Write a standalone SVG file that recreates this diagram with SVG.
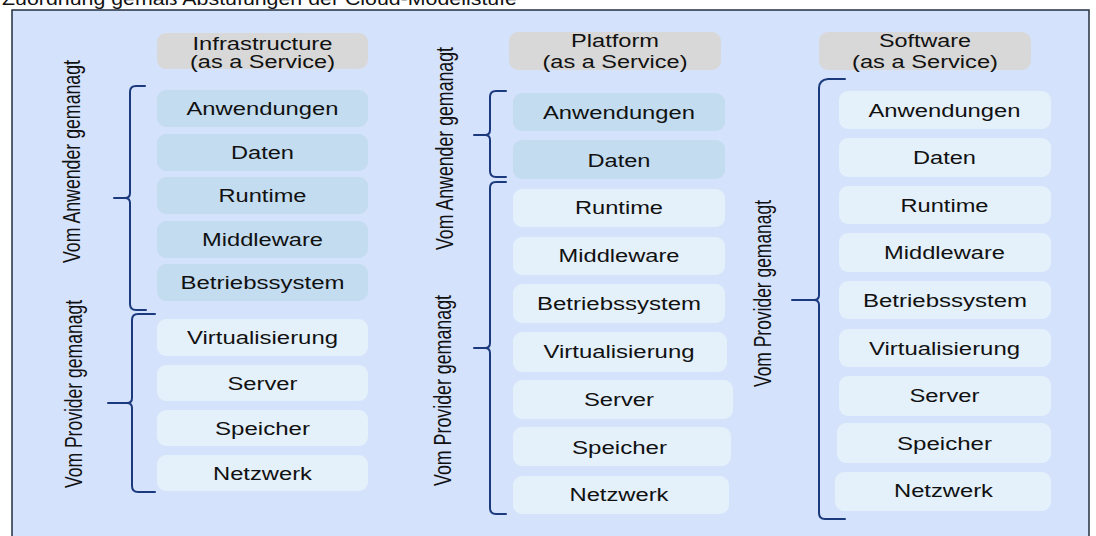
<svg xmlns="http://www.w3.org/2000/svg" width="1096" height="536" viewBox="0 0 1096 536">
<style>
text{font-family:"Liberation Sans",Arial,sans-serif;fill:#111;}
.t{font-size:17.5px;text-anchor:middle;}
.v{font-size:23.5px;text-anchor:middle;}
.hd{fill:#d8d8d8;}
.dk{fill:#c3dcef;}
.lt{fill:#e4f0fa;}
.br{fill:none;stroke:#1b3a7e;stroke-width:2;stroke-linejoin:round;stroke-linecap:round;}
</style>
<rect width="1096" height="536" fill="#ffffff"/>
<text x="2" y="5" font-size="17.5" textLength="515" lengthAdjust="spacingAndGlyphs">Zuordnung gemäß Abstufungen der Cloud-Modellstufe</text>
<rect x="12" y="10" width="1077" height="545" fill="#d5e2fc" stroke="#233040" stroke-width="1.5"/>

<g id="col-iaas">
<g id="iaas-header"><rect class="hd" x="157" y="33" width="211" height="36" rx="9"/><text class="t" x="262.5" y="50" textLength="140" lengthAdjust="spacingAndGlyphs">Infrastructure</text><text class="t" x="262.5" y="68" textLength="145" lengthAdjust="spacingAndGlyphs">(as a Service)</text></g>
<g id="iaas-anwendungen"><rect class="dk" x="157" y="90" width="211" height="37" rx="9"/><text class="t" x="262.5" y="115" textLength="152" lengthAdjust="spacingAndGlyphs">Anwendungen</text></g>
<g id="iaas-daten"><rect class="dk" x="157" y="134" width="211" height="37" rx="9"/><text class="t" x="262.5" y="159" textLength="63" lengthAdjust="spacingAndGlyphs">Daten</text></g>
<g id="iaas-runtime"><rect class="dk" x="157" y="177" width="211" height="37" rx="9"/><text class="t" x="262.5" y="202" textLength="88" lengthAdjust="spacingAndGlyphs">Runtime</text></g>
<g id="iaas-middleware"><rect class="dk" x="157" y="221" width="211" height="37" rx="9"/><text class="t" x="262.5" y="246" textLength="121" lengthAdjust="spacingAndGlyphs">Middleware</text></g>
<g id="iaas-betriebssystem"><rect class="dk" x="157" y="264" width="211" height="37" rx="9"/><text class="t" x="262.5" y="289" textLength="164" lengthAdjust="spacingAndGlyphs">Betriebssystem</text></g>
<g id="iaas-virtualisierung"><rect class="lt" x="157" y="319" width="211" height="37" rx="9"/><text class="t" x="262.5" y="344" textLength="151" lengthAdjust="spacingAndGlyphs">Virtualisierung</text></g>
<g id="iaas-server"><rect class="lt" x="157" y="365" width="211" height="36" rx="9"/><text class="t" x="262.5" y="390" textLength="70" lengthAdjust="spacingAndGlyphs">Server</text></g>
<g id="iaas-speicher"><rect class="lt" x="157" y="410" width="211" height="36" rx="9"/><text class="t" x="262.5" y="435" textLength="95" lengthAdjust="spacingAndGlyphs">Speicher</text></g>
<g id="iaas-netzwerk"><rect class="lt" x="157" y="455" width="211" height="36" rx="9"/><text class="t" x="262.5" y="480" textLength="99" lengthAdjust="spacingAndGlyphs">Netzwerk</text></g>
<g id="iaas-label-anwender"><text class="v" transform="translate(80,161.5) rotate(-90)" textLength="203" lengthAdjust="spacingAndGlyphs">Vom Anwender  gemanagt</text></g>
<g id="iaas-label-provider"><text class="v" transform="translate(82,394) rotate(-90)" textLength="188" lengthAdjust="spacingAndGlyphs">Vom Provider gemanagt</text></g>
</g>

<g id="col-paas">
<g id="paas-header"><rect class="hd" x="509" y="32" width="212" height="38" rx="9"/><text class="t" x="615" y="47" textLength="88" lengthAdjust="spacingAndGlyphs">Platform</text><text class="t" x="615" y="68" textLength="145" lengthAdjust="spacingAndGlyphs">(as a Service)</text></g>
<g id="paas-anwendungen"><rect class="dk" x="513" y="93" width="212" height="38" rx="9"/><text class="t" x="619" y="119" textLength="152" lengthAdjust="spacingAndGlyphs">Anwendungen</text></g>
<g id="paas-daten"><rect class="dk" x="513" y="140" width="212" height="39" rx="9"/><text class="t" x="619" y="167" textLength="63" lengthAdjust="spacingAndGlyphs">Daten</text></g>
<g id="paas-runtime"><rect class="lt" x="513" y="189" width="212" height="38" rx="9"/><text class="t" x="619" y="214" textLength="88" lengthAdjust="spacingAndGlyphs">Runtime</text></g>
<g id="paas-middleware"><rect class="lt" x="513" y="237" width="212" height="38" rx="9"/><text class="t" x="619" y="262" textLength="121" lengthAdjust="spacingAndGlyphs">Middleware</text></g>
<g id="paas-betriebssystem"><rect class="lt" x="513" y="284" width="212" height="39" rx="9"/><text class="t" x="619" y="310" textLength="164" lengthAdjust="spacingAndGlyphs">Betriebssystem</text></g>
<g id="paas-virtualisierung"><rect class="lt" x="513" y="332" width="214" height="40" rx="9"/><text class="t" x="619" y="358" textLength="151" lengthAdjust="spacingAndGlyphs">Virtualisierung</text></g>
<g id="paas-server"><rect class="lt" x="513" y="380" width="220" height="39" rx="9"/><text class="t" x="619" y="406" textLength="70" lengthAdjust="spacingAndGlyphs">Server</text></g>
<g id="paas-speicher"><rect class="lt" x="513" y="427" width="218" height="39" rx="9"/><text class="t" x="619.5" y="454" textLength="95" lengthAdjust="spacingAndGlyphs">Speicher</text></g>
<g id="paas-netzwerk"><rect class="lt" x="513" y="476" width="216" height="38" rx="9"/><text class="t" x="619" y="501" textLength="99" lengthAdjust="spacingAndGlyphs">Netzwerk</text></g>
<g id="paas-label-anwender"><text class="v" transform="translate(453,148.5) rotate(-90)" textLength="203" lengthAdjust="spacingAndGlyphs">Vom Anwender  gemanagt</text></g>
<g id="paas-label-provider"><text class="v" transform="translate(451,390.5) rotate(-90)" textLength="191" lengthAdjust="spacingAndGlyphs">Vom Provider  gemanagt</text></g>
</g>

<g id="col-saas">
<g id="saas-header"><rect class="hd" x="819" y="32" width="212" height="38" rx="9"/><text class="t" x="925" y="47" textLength="92" lengthAdjust="spacingAndGlyphs">Software</text><text class="t" x="925" y="68" textLength="146" lengthAdjust="spacingAndGlyphs">(as a Service)</text></g>
<g id="saas-anwendungen"><rect class="lt" x="839" y="91" width="212" height="38" rx="9"/><text class="t" x="944.5" y="117" textLength="152" lengthAdjust="spacingAndGlyphs">Anwendungen</text></g>
<g id="saas-daten"><rect class="lt" x="839" y="138" width="212" height="39" rx="9"/><text class="t" x="944.5" y="164" textLength="63" lengthAdjust="spacingAndGlyphs">Daten</text></g>
<g id="saas-runtime"><rect class="lt" x="839" y="186" width="212" height="38" rx="9"/><text class="t" x="944.5" y="212" textLength="88" lengthAdjust="spacingAndGlyphs">Runtime</text></g>
<g id="saas-middleware"><rect class="lt" x="839" y="233" width="212" height="39" rx="9"/><text class="t" x="944.5" y="259" textLength="121" lengthAdjust="spacingAndGlyphs">Middleware</text></g>
<g id="saas-betriebssystem"><rect class="lt" x="839" y="281" width="212" height="38" rx="9"/><text class="t" x="945" y="307" textLength="164" lengthAdjust="spacingAndGlyphs">Betriebssystem</text></g>
<g id="saas-virtualisierung"><rect class="lt" x="839" y="329" width="212" height="38" rx="9"/><text class="t" x="944.5" y="355" textLength="151" lengthAdjust="spacingAndGlyphs">Virtualisierung</text></g>
<g id="saas-server"><rect class="lt" x="839" y="376" width="212" height="40" rx="9"/><text class="t" x="944.5" y="402" textLength="70" lengthAdjust="spacingAndGlyphs">Server</text></g>
<g id="saas-speicher"><rect class="lt" x="837" y="423" width="214" height="40" rx="9"/><text class="t" x="944.5" y="450" textLength="95" lengthAdjust="spacingAndGlyphs">Speicher</text></g>
<g id="saas-netzwerk"><rect class="lt" x="835" y="472" width="216" height="39" rx="9"/><text class="t" x="943.5" y="497" textLength="99" lengthAdjust="spacingAndGlyphs">Netzwerk</text></g>
<g id="saas-label-provider"><text class="v" transform="translate(771,293.5) rotate(-90)" textLength="187" lengthAdjust="spacingAndGlyphs">Vom Provider gemanagt</text></g>
</g>

<g id="connectors">
<path class="br" d="M145,86 L136,86 Q130,86 130,92 L130,193 Q130,198 125,198 L114,198 L125,198 Q130,198 130,203 L130,304 Q130,310 136,310 L146,310"/>
<path class="br" d="M155,314 L138,314 Q132,314 132,320 L132,398 Q132,403 127,403 L108,403 L127,403 Q132,403 132,408 L132,486 Q132,492 138,492 L155,492"/>
<path class="br" d="M506,91 L496,91 Q490,91 490,97 L490,130 Q490,135 485,135 L474,135 L485,135 Q490,135 490,140 L490,171 Q490,177 496,177 L506,177"/>
<path class="br" d="M506,182 L496,182 Q490,182 490,188 L490,343 Q490,348 485,348 L474,348 L485,348 Q490,348 490,353 L490,508 Q490,514 496,514 L506,514"/>
<path class="br" d="M845,79 L828,79 Q819,80 819,88 L819,295 Q819,300 814,300 L792,300 L814,300 Q819,300 819,305 L819,513 Q819,519 825,519 L845,519"/>
</g>
</svg>
